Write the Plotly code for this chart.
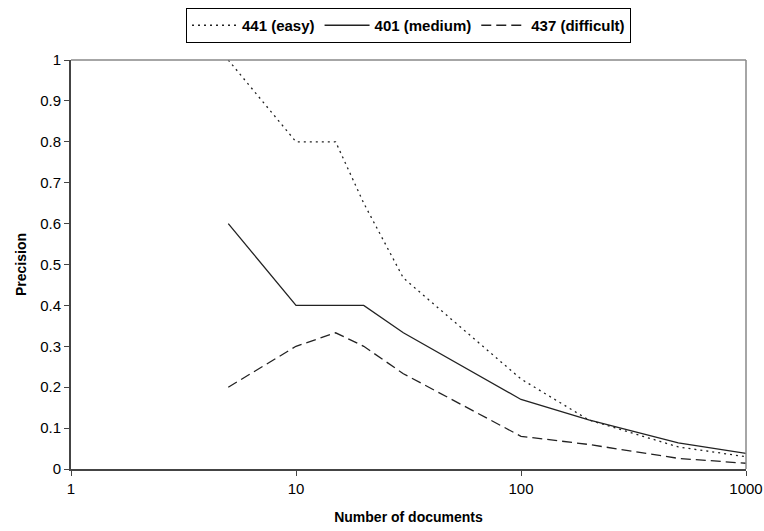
import plotly.graph_objects as go

docs = [5, 10, 15, 20, 30, 100, 200, 500, 1000]
easy_441 = [1.0, 0.8, 0.8, 0.65, 0.467, 0.22, 0.12, 0.054, 0.03]
medium_401 = [0.6, 0.4, 0.4, 0.4, 0.333, 0.17, 0.12, 0.064, 0.038]
difficult_437 = [0.2, 0.3, 0.333, 0.3, 0.233, 0.08, 0.06, 0.026, 0.014]
names = ["441 (easy)", "401 (medium)", "437 (difficult)"]
y_ticks = [0, 0.1, 0.2, 0.3, 0.4, 0.5, 0.6, 0.7, 0.8, 0.9, 1]
x_ticks = [1, 10, 100, 1000]

font = "Liberation Sans, Arial, sans-serif"
fig = go.Figure()
for vals, name, dash in [(easy_441, names[0], "2px,4px"),
                         (medium_401, names[1], "solid"),
                         (difficult_437, names[2], "10px,5px")]:
    fig.add_trace(go.Scatter(x=docs, y=vals, mode="lines", name=name,
                             line=dict(color="#222222", width=1.3, dash=dash)))

fig.update_layout(
    width=764, height=531,
    margin=dict(l=71, r=18, t=60, b=62, autoexpand=False),
    paper_bgcolor="white", plot_bgcolor="white",
    font=dict(family=font, size=15, color="black"),
    showlegend=True,
    legend=dict(orientation="h", x=0.5, xanchor="center", xref="paper",
                y=1 - 8 / 531, yanchor="top", yref="container",
                bordercolor="black", borderwidth=1,
                font=dict(family=font, size=15, color="black", weight="bold"),
                itemwidth=45, tracegroupgap=0),
    xaxis=dict(type="log", range=[0, 3], tickvals=x_ticks, ticktext=[str(v) for v in x_ticks],
               showgrid=False, zeroline=False, showline=True, linecolor="#444444", linewidth=2,
               ticks="outside", ticklen=5, tickcolor="#444444", tickfont=dict(size=15),
               automargin=False,
               title=dict(text="<b>Number of documents</b>", standoff=16, font=dict(size=14))),
    yaxis=dict(range=[0, 1], tickvals=y_ticks, ticktext=[("%g" % v) for v in y_ticks],
               showgrid=False, zeroline=False, showline=True, linecolor="#444444", linewidth=2,
               ticks="outside", ticklen=5, tickcolor="#444444", tickfont=dict(size=15),
               automargin=False,
               title=dict(text="<b>Precision</b>", standoff=10, font=dict(size=14))),
    shapes=[
        dict(type="line", xref="paper", yref="paper", x0=0, x1=1, y0=1, y1=1,
             line=dict(color="#888888", width=1.5)),
        dict(type="line", xref="paper", yref="paper", x0=1, x1=1, y0=0, y1=1,
             line=dict(color="#888888", width=1.5)),
    ],
)
fig.write_html("out.html")
